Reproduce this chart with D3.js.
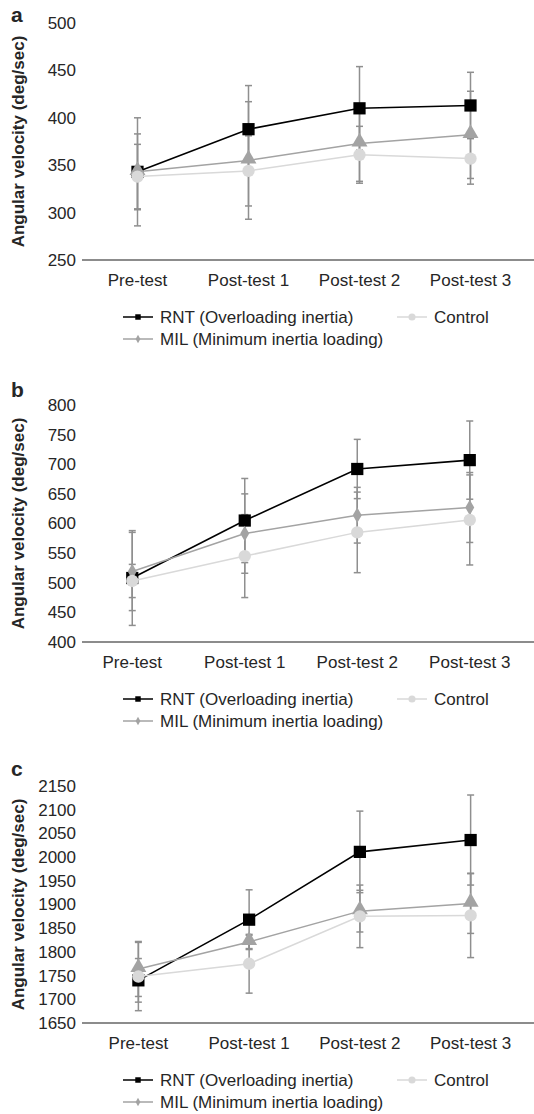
<!DOCTYPE html>
<meta charset="UTF-8">
<title>Angular velocity</title>
<style>
  body { margin: 0; background: #fff; }
  svg text { font-family: "Liberation Sans", Arial, sans-serif; fill: #262626; }
</style>
<svg width="534" height="1114"></svg>
<script src="https://d3js.org/d3.v7.min.js"></script>
<script>
var categories = ["Pre-test", "Post-test 1", "Post-test 2", "Post-test 3"];
var seriesNames = ["RNT (Overloading inertia)", "MIL (Minimum inertia loading)", "Control"];

// panel a
var rntA = [343, 388, 410, 413], rntSdA = [57, 46, 44, 35];
var milA = [343, 355, 373, 382], milSdA = [40, 62, 40, 46];
var ctlA = [338, 344, 361, 357], ctlSdA = [34, 37, 30, 27];
var ticksA = [250, 300, 350, 400, 450, 500];

// panel b
var rntB = [508, 605, 692, 707], rntSdB = [80, 71, 50, 66];
var milB = [519, 583, 614, 627], milSdB = [66, 67, 47, 59];
var ctlB = [503, 545, 585, 606], ctlSdB = [28, 70, 68, 76];
var ticksB = [400, 450, 500, 550, 600, 650, 700, 750, 800];

// panel c
var rntC = [1740, 1868, 2011, 2036], rntSdC = [46, 63, 86, 95];
var milC = [1764, 1821, 1886, 1902], milSdC = [58, 14, 44, 63];
var ctlC = [1748, 1775, 1875, 1877], ctlSdC = [72, 62, 66, 89];
var ticksC = [1650, 1700, 1750, 1800, 1850, 1900, 1950, 2000, 2050, 2100, 2150];

var svg = d3.select("svg");
var colors = ["#000000", "#a3a3a3", "#d9d9d9"];
var errColor = "#8f8f8f";

function drawPanel(letter, top, x0, letterY, ticks, series) {
  var h = 237;
  var g = svg.append("g").attr("transform", "translate(0," + top + ")");

  var x = d3.scaleBand().domain(categories).range([x0, 526]);
  var y = d3.scaleLinear().domain(d3.extent(ticks)).range([h, 0]);

  // y tick labels only, no axis line
  var yAxis = g.append("g")
      .attr("transform", "translate(76,0)")
      .call(d3.axisLeft(y).tickValues(ticks).tickFormat(d3.format("d")).tickSize(0).tickPadding(0));
  yAxis.select(".domain").remove();
  yAxis.selectAll("text")
      .style("font-size", "17px")
      .style("font-family", "'Liberation Sans', Arial, sans-serif")
      .attr("fill", "#262626");

  g.append("line")
      .attr("x1", 82).attr("x2", 534)
      .attr("y1", h).attr("y2", h)
      .attr("stroke", "#1a1a1a").attr("stroke-width", 1.2);

  categories.forEach(function(c) {
    g.append("text")
        .attr("x", x(c) + x.bandwidth() / 2)
        .attr("y", h + 26)
        .attr("text-anchor", "middle")
        .style("font-size", "17px")
        .text(c);
  });

  g.append("text")
      .attr("transform", "translate(24," + (h / 2) + ") rotate(-90)")
      .attr("text-anchor", "middle")
      .style("font-size", "17px")
      .style("font-weight", "bold")
      .text("Angular velocity (deg/sec)");

  svg.append("text")
      .attr("x", 11).attr("y", letterY)
      .style("font-size", "21px")
      .style("font-weight", "bold")
      .text(letter);

  var cx = function(i) { return x(categories[i]) + x.bandwidth() / 2; };

  // error bars
  series.forEach(function(s) {
    s.vals.forEach(function(v, i) {
      var hi = y(v + s.sd[i]), lo = y(v - s.sd[i]);
      g.append("line").attr("x1", cx(i)).attr("x2", cx(i)).attr("y1", hi).attr("y2", lo)
          .attr("stroke", errColor).attr("stroke-width", 1.5);
      [hi, lo].forEach(function(yy) {
        g.append("line").attr("x1", cx(i) - 3.5).attr("x2", cx(i) + 3.5).attr("y1", yy).attr("y2", yy)
            .attr("stroke", errColor).attr("stroke-width", 1.5);
      });
    });
  });

  var line = d3.line()
      .x(function(d, i) { return cx(i); })
      .y(function(d) { return y(d); });

  series.forEach(function(s, k) {
    g.append("path")
        .datum(s.vals)
        .attr("fill", "none")
        .attr("stroke", colors[k])
        .attr("stroke-width", k == 0 ? 1.6 : 1.5)
        .attr("d", line);

    var sym = d3.symbol().type(s.shape).size(s.size);
    g.selectAll(null)
        .data(s.vals)
      .enter().append("path")
        .attr("transform", function(d, i) {
          var off = s.shape === d3.symbolTriangle ? 1.5 : 0;
          return "translate(" + cx(i) + "," + (y(d) - off) + ")";
        })
        .attr("d", sym)
        .attr("fill", colors[k]);
  });

  // legend
  var ly1 = h + 57, ly2 = h + 79;
  var legend = [
    {lx: 123, ly: ly1, shape: d3.symbolSquare, size: 30, c: colors[0], t: seriesNames[0]},
    {lx: 123, ly: ly2, shape: d3.symbolDiamond, size: 20, c: colors[1], t: seriesNames[1]},
    {lx: 397, ly: ly1, shape: d3.symbolCircle, size: 40, c: colors[2], t: seriesNames[2]}
  ];
  legend.forEach(function(l) {
    g.append("line").attr("x1", l.lx).attr("x2", l.lx + 30).attr("y1", l.ly).attr("y2", l.ly)
        .attr("stroke", l.c).attr("stroke-width", 1.5);
    g.append("path")
        .attr("transform", "translate(" + (l.lx + 15) + "," + l.ly + ")")
        .attr("d", d3.symbol().type(l.shape).size(l.size))
        .attr("fill", l.c);
    g.append("text")
        .attr("x", l.lx + 37).attr("y", l.ly + 6)
        .style("font-size", "17px")
        .text(l.t);
  });
}

drawPanel("a", 23, 82, 22, ticksA, [
  {vals: rntA, sd: rntSdA, shape: d3.symbolSquare, size: 150},
  {vals: milA, sd: milSdA, shape: d3.symbolTriangle, size: 110},
  {vals: ctlA, sd: ctlSdA, shape: d3.symbolCircle, size: 120}
]);

drawPanel("b", 405, 76, 397, ticksB, [
  {vals: rntB, sd: rntSdB, shape: d3.symbolSquare, size: 150},
  {vals: milB, sd: milSdB, shape: d3.symbolDiamond, size: 70},
  {vals: ctlB, sd: ctlSdB, shape: d3.symbolCircle, size: 120}
]);

drawPanel("c", 786, 83, 776, ticksC, [
  {vals: rntC, sd: rntSdC, shape: d3.symbolSquare, size: 150},
  {vals: milC, sd: milSdC, shape: d3.symbolTriangle, size: 110},
  {vals: ctlC, sd: ctlSdC, shape: d3.symbolCircle, size: 120}
]);
</script>
